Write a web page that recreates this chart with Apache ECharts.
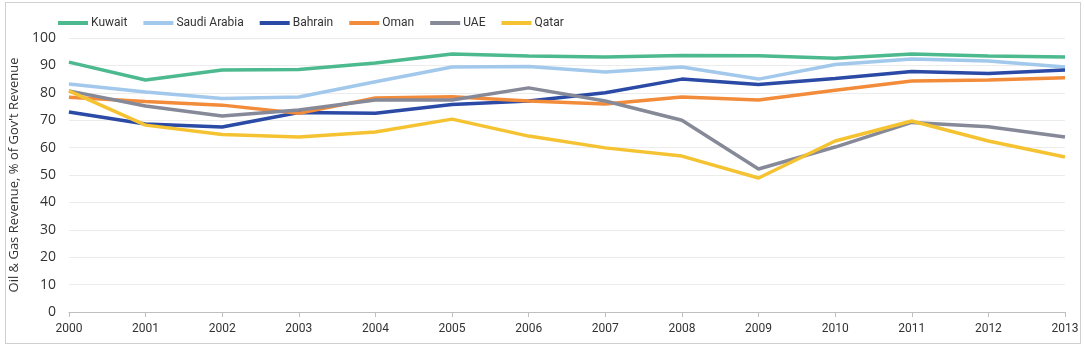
<!DOCTYPE html>
<html><head><meta charset="utf-8">
<script src="https://cdn.jsdelivr.net/npm/echarts@6/dist/echarts.min.js"></script>
<style>
html,body{margin:0;padding:0;background:#fff;}
#frame{position:absolute;left:5px;top:2px;width:1074px;height:340px;border:1px solid #d0d0d0;}
#c{position:absolute;left:0;top:0;width:1085px;height:356px;}
</style></head>
<body><div id="frame"></div><div id="c"></div>
<script>
const years = ['2000','2001','2002','2003','2004','2005','2006','2007','2008','2009','2010','2011','2012','2013'];
const kuwait = [91.2,84.7,88.3,88.5,90.9,94.2,93.4,93.1,93.6,93.5,92.6,94.2,93.4,93.1];
const saudi = [83.2,80.3,77.9,78.5,84.0,89.4,89.6,87.6,89.4,85.0,90.3,92.3,91.6,89.4];
const bahrain = [73.0,68.6,67.5,72.8,72.5,75.7,77.0,80.0,85.0,83.0,85.2,87.8,87.0,88.3];
const oman = [78.4,76.8,75.5,72.5,78.1,78.6,77.0,75.9,78.5,77.4,80.9,84.3,84.7,85.5];
const uae = [80.7,75.2,71.5,73.7,77.4,77.4,81.8,77.0,70.0,52.2,60.2,69.2,67.6,63.9];
const qatar = [80.7,68.2,64.8,63.9,65.7,70.4,64.2,59.9,56.9,48.9,62.4,69.7,62.4,56.6];
const names = ['Kuwait','Saudi Arabia','Bahrain','Oman','UAE','Qatar'];
const colors = ['#4cb98f','#a2c8ec','#2a4aa6','#f28c3b','#868997','#f5c332'];
const yTicks = [0,10,20,30,40,50,60,70,80,90,100];

const seriesData = [kuwait, saudi, bahrain, oman, uae, qatar];
const chart = echarts.init(document.getElementById('c'));
chart.setOption({
  animation:false,
  textStyle:{fontFamily:'Roboto'},
  legend:{
    data:names, left:53, top:12, icon:'rect', itemWidth:30, itemHeight:4, itemGap:16,
    textStyle:{fontSize:12,color:'#333',fontFamily:'Roboto',padding:[0,0,0,-2]}
  },
  grid:{left:63,right:20,top:38,bottom:44},
  xAxis:{type:'category',data:years,boundaryGap:false,
    axisLine:{lineStyle:{color:'#bfbfbf'}},
    axisTick:{show:true,alignWithLabel:true,lineStyle:{color:'#bfbfbf'},length:5},
    axisLabel:{color:'#333',fontSize:12,margin:11,fontFamily:'Roboto',interval:0},
    splitLine:{show:false}},
  yAxis:{type:'value',min:0,max:100,interval:10,
    name:"Oil & Gas Revenue, % of Gov't Revenue",nameLocation:'middle',nameGap:40,
    nameTextStyle:{fontSize:13,color:'#333',fontFamily:'Open Sans'},
    axisLine:{show:false},axisTick:{show:false},
    axisLabel:{color:'#333',fontSize:14,margin:13,fontFamily:'Open Sans',formatter:v=>yTicks.includes(v)?String(v):''},
    splitLine:{lineStyle:{color:'#ececec',width:1}}},
  series: names.map((n,i)=>({
    name:n,type:'line',data:seriesData[i],symbol:'none',
    lineStyle:{color:colors[i],width:3.5},itemStyle:{color:colors[i]}
  }))
});
</script></body></html>
